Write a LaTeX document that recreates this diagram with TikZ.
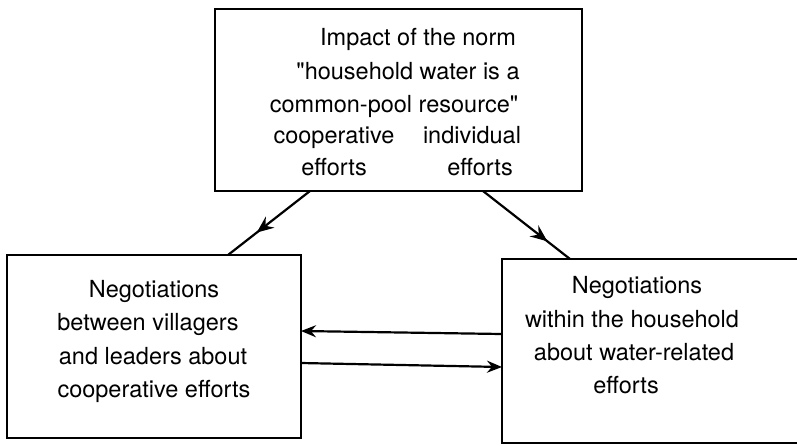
\documentclass[tikz,border=0pt]{standalone}
\usepackage{fontspec}
\setmainfont{TeX Gyre Heros}
\usetikzlibrary{arrows.meta,decorations.markings}
\begin{document}
\begin{tikzpicture}[x=1pt,y=-1pt,
  box/.style={draw,line width=2.2pt,rectangle,inner sep=0pt},
  txt/.style={anchor=base,inner sep=0pt,font=\fontsize{23.5}{33}\selectfont},
  conn/.style={line width=2.2pt},
  tip/.style={-{Stealth[length=15pt,width=12pt,inset=5pt]}},
  midarrow/.style={postaction={decorate},decoration={markings,
     mark=at position #1 with {\arrow{Stealth[length=17pt,width=14pt,inset=6pt]}}}}
]
\useasboundingbox (0,0) rectangle (797,445);
% boxes
\node[box,minimum width=367pt,minimum height=182pt] (top) at (398.5,100) {};
\node[box,minimum width=294pt,minimum height=183pt] (left) at (154,346.5) {};
\node[box,minimum width=328pt,minimum height=184pt] (right) at (666,351) {};
% top text
\node[txt] (t1) at (418,45) {Impact of the norm};
\node[txt] (t2) at (408,79) {\textquotedbl household water is a};
\node[txt] (t3) at (394,112) {common-pool resource\textquotedbl};
\node[txt] (t4a) at (334,143) {cooperative};
\node[txt] (t4b) at (472,143) {individual};
\node[txt] (t5a) at (334,175) {efforts};
\node[txt] (t5b) at (480,175) {efforts};
% left text
\node[txt] (l1) at (154,297) {Negotiations};
\node[txt] (l2) at (148,330) {between villagers};
\node[txt] (l3) at (153,364) {and leaders about};
\node[txt] (l4) at (154,397) {cooperative efforts};
% right text
\node[txt] (r1) at (637,293) {Negotiations};
\node[txt] (r2) at (632,327) {within the household};
\node[txt] (r3) at (634,360) {about water-related};
\node[txt] (r4) at (626,393) {efforts};
% connector end points on box edges
\coordinate (a1) at (310,191);
\coordinate (a2) at (228,255);
\coordinate (b1) at (483,191);
\coordinate (b2) at (570,259);
\coordinate (h1r) at (502,334);
\coordinate (h1l) at (301,331);
\coordinate (h2l) at (301,363);
\coordinate (h2r) at (502,367);
\draw[conn,midarrow=0.65] (a1) -- (a2);
\draw[conn,midarrow=0.74] (b1) -- (b2);
\draw[conn,tip] (h1r) -- (h1l);
\draw[conn,tip] (h2l) -- (h2r);
\end{tikzpicture}
\end{document}
